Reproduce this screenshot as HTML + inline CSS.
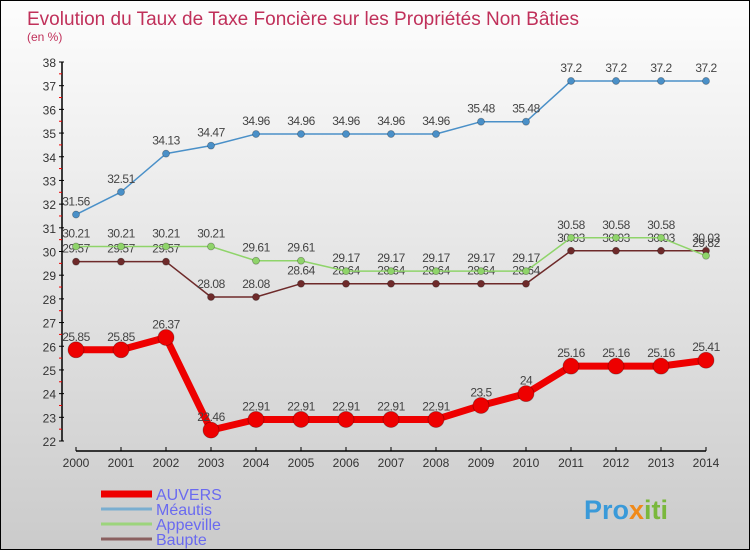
<!DOCTYPE html>
<html><head><meta charset="utf-8"><style>
body{margin:0}
#c{width:750px;height:550px;position:relative;box-sizing:border-box;border:1px solid #000;background:linear-gradient(#fdfdfd,#cbcbcb);font-family:"Liberation Sans",sans-serif;overflow:hidden}
</style></head><body>
<div id="c">
<svg id="s" width="750" height="550" style="position:absolute;left:0;top:0">
<text x="26" y="24" font-size="19" fill="#c0305a" textLength="552">Evolution du Taux de Taxe Foncière sur les Propriétés Non Bâties</text>
<text x="26" y="40" font-size="12" fill="#c0305a">(en %)</text>
<text x="583" y="518" font-size="27" font-weight="bold" fill="#3a9ad9">Pro<tspan fill="#f08a1a">x</tspan><tspan fill="#7ab83c">iti</tspan></text>
</svg>
</div>
<script>
const years=[2000,2001,2002,2003,2004,2005,2006,2007,2008,2009,2010,2011,2012,2013,2014];
const auvers=[25.85,25.85,26.37,22.46,22.91,22.91,22.91,22.91,22.91,23.5,24,25.16,25.16,25.16,25.41];
const meautis=[31.56,32.51,34.13,34.47,34.96,34.96,34.96,34.96,34.96,35.48,35.48,37.2,37.2,37.2,37.2];
const appeville=[30.21,30.21,30.21,30.21,29.61,29.61,29.17,29.17,29.17,29.17,29.17,30.58,30.58,30.58,29.82];
const baupte=[29.57,29.57,29.57,28.08,28.08,28.64,28.64,28.64,28.64,28.64,28.64,30.03,30.03,30.03,30.03];
const yTicks=[22,23,24,25,26,27,28,29,30,31,32,33,34,35,36,37,38];
const NS="http://www.w3.org/2000/svg",s=document.getElementById('s');
const X=i=>75+i*45, Y=v=>440-(v-22)*(379/16);
function el(t,a,p){const e=document.createElementNS(NS,t);for(const k in a)e.setAttribute(k,a[k]);(p||s).appendChild(e);return e;}
const ax=el('line',{x1:61,y1:Y(38),x2:61,y2:440,stroke:'#000','stroke-width':1.5});


const xx=el('line',{x1:75,y1:450,x2:705,y2:450,stroke:'#000','stroke-width':1.5});


yTicks.forEach(v=>{
 el('line',{x1:58,y1:Y(v),x2:63,y2:Y(v),stroke:'#000'});
 if(v<38) el('line',{x1:58,y1:Y(v+0.5),x2:61,y2:Y(v+0.5),stroke:'#e00'});
 const t=el('text',{x:55,y:Y(v)+5,'font-size':12,fill:'#333','text-anchor':'end'});t.textContent=v;
 
 
});
years.forEach((y,i)=>{
 el('line',{x1:X(i),y1:446,x2:X(i),y2:450,stroke:'#000'});
 const t=el('text',{x:X(i),y:466,'font-size':12,fill:'#333','text-anchor':'middle'});t.textContent=y;
 
 
});
function series(d,col,w,r,name){
 const g=el('g',{});
 
 
 el('polyline',{points:d.map((v,i)=>X(i)+','+Y(v)).join(' '),fill:'none',stroke:col,'stroke-width':w,'stroke-linejoin':'round'},g);
 d.forEach((v,i)=>{
  const c=el('circle',{cx:X(i),cy:Y(v),r:r,fill:col,stroke:'rgba(0,0,0,0.3)','stroke-width':0.8},g);
  
  
  const t=el('text',{x:X(i),y:Y(v)-9,'font-size':12,fill:'#444','text-anchor':'middle','letter-spacing':'-0.5'},g);t.textContent=String(v);
  
  
 });
}
series(baupte,'#6e2a2a',1.5,3.5,'baupte');
series(appeville,'#8fd46a',1.5,3.5,'appeville');
series(meautis,'#4a90c8',1.5,3.5,'meautis');
series(auvers,'#ee0000',7,8,'auvers');
const leg=[['AUVERS','#ee0000',7],['Méautis','#7aaed0',3],['Appeville','#9cd47c',3],['Baupte','#8a6060',3]];
leg.forEach((l,i)=>{
 const y=493+i*15;
 const g=el('g',{});
 
 
 el('line',{x1:100,y1:y,x2:151,y2:y,stroke:l[1],'stroke-width':l[2]},g);
 const t=el('text',{x:155,y:y+6,'font-size':16,fill:'#6a6af0'},g);t.textContent=l[0];
});
</script>
</body></html>
